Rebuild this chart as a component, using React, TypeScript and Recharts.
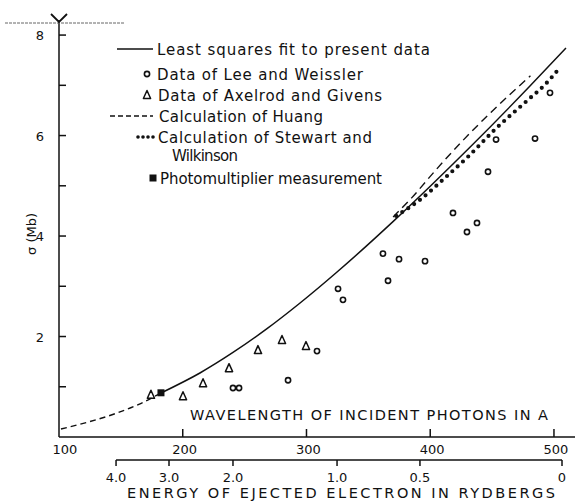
import React from 'react';
import { ComposedChart, Line, Scatter, XAxis, YAxis, ReferenceLine } from 'recharts';

// wavelength in A, cross section in Mb
const fitLambda = [182.4, 213.9, 240.6, 268.1, 294.8, 324.7, 369.9, 399.8, 432.1, 480.6, 509.7];
const fitSigma = [0.876, 1.274, 1.682, 2.156, 2.667, 3.284, 4.287, 4.986, 5.766, 6.986, 7.743];

const extrapLambda = [101.6, 124, 146, 164.5, 182.4];
const extrapSigma = [0.16, 0.3, 0.47, 0.65, 0.876];

const huangLambda = [370, 385, 404, 424, 449, 481];
const huangSigma = [4.38, 4.76, 5.3, 5.84, 6.46, 7.19];

const stewartLambda = [372.5, 392.7, 412, 430.6, 452.3, 479, 492.6, 504.7];
const stewartSigma = [4.4, 4.74, 5.16, 5.58, 6.12, 6.71, 7.01, 7.35];

const leeLambda = [240.6, 245.5, 285.1, 308.5, 325.5, 329.5, 361.8, 365.9, 374.8, 395.8, 418.4, 429.7, 437.8, 446.7, 453.2, 484.7, 496.8];
const leeSigma = [0.975, 0.975, 1.13, 1.71, 2.95, 2.73, 3.65, 3.11, 3.54, 3.5, 4.46, 4.08, 4.26, 5.28, 5.92, 5.94, 6.85];

const axelrodLambda = [174.3, 200.2, 216.4, 237.4, 260.8, 280.2, 299.6];
const axelrodSigma = [0.84, 0.81, 1.07, 1.37, 1.73, 1.93, 1.81];

const photoLambda = [182.4];
const photoSigma = [0.88];

const lambdaTicks = [100, 200, 300, 400, 500];
const sigmaTicks = [0, 1, 2, 3, 4, 5, 6, 7, 8];
const energyTickLambda = [146.1, 188.9, 240.6, 324.7, 391.7, 506.5];
const energyLabels = ['4.0', '3.0', '2.0', '1.0', '0.5', '0'];

const pts = (xs: number[], ys: number[]) => xs.map((x, i) => ({ x, y: ys[i] }));

const INK = '#111';
const FONT = '"DejaVu Sans", sans-serif';
const BRACKET_Y = -0.46;

function OpenCircle({ cx, cy }: any) {
  return <circle cx={cx} cy={cy} r={2.6} fill="#fff" stroke={INK} strokeWidth={1.6} />;
}

function Triangle({ cx, cy }: any) {
  return (
    <path
      d={`M${cx},${cy - 4.5} L${cx + 3.6},${cy + 3.5} L${cx - 3.6},${cy + 3.5} Z`}
      fill="none"
      stroke={INK}
      strokeWidth={1.5}
      strokeLinejoin="round"
    />
  );
}

function Square({ cx, cy }: any) {
  return <rect x={cx - 3.5} y={cy - 3.5} width={7} height={7} fill={INK} />;
}

function YTick({ x, y, payload }: any) {
  const v = payload.value;
  const ax = x + 14;
  return (
    <g>
      {v > 0 && <line x1={ax} x2={ax + 7} y1={y} y2={y} stroke={INK} strokeWidth={1.5} />}
      {v > 0 && v % 2 === 0 && (
        <text x={x - 1} y={y + 5} textAnchor="end" fontFamily={FONT} fontSize={13} fill={INK}>
          {v}
        </text>
      )}
    </g>
  );
}

function XTick({ x, y, payload }: any) {
  const v = payload.value;
  const ay = y - 10;
  return (
    <g>
      {v > 100 && <line x1={x} x2={x} y1={ay} y2={ay - 8} stroke={INK} strokeWidth={1.5} />}
      <text x={x + (v === 100 ? 6 : 2)} y={y + 7} textAnchor="middle" fontFamily={FONT} fontSize={13} fill={INK}>
        {v}
      </text>
    </g>
  );
}

// energy scale hangs below the wavelength axis (y = axis top + 8)
function ETick({ x, y, index }: any) {
  return (
    <g>
      <line x1={x} x2={x} y1={y - 9} y2={y - 3} stroke={INK} strokeWidth={1.5} />
      <text x={x} y={y + 13} textAnchor="middle" fontFamily={FONT} fontSize={13} fill={INK}>
        {energyLabels[index]}
      </text>
    </g>
  );
}

function Overlay() {
  const t = { fontFamily: FONT, fontSize: 15, fill: INK, lengthAdjust: 'spacing' as const };
  return (
    <svg width={575} height={502} style={{ position: 'absolute', left: 0, top: 0, pointerEvents: 'none' }}>
      {/* top of y axis */}
      <line x1={5} x2={125} y1={23} y2={23} stroke="#666" strokeWidth={1} strokeDasharray="3 1" />
      <path d="M51,14 L59,22 L67,14" fill="none" stroke={INK} strokeWidth={1.8} />

      {/* legend */}
      <line x1={117} x2={153} y1={49} y2={49} stroke={INK} strokeWidth={1.4} />
      <text x={157} y={55} textLength={273} {...t}>Least squares fit to present data</text>
      <OpenCircle cx={147} cy={74} />
      <text x={157} y={80} textLength={206} {...t}>Data of Lee and Weissler</text>
      <Triangle cx={147} cy={95} />
      <text x={158} y={101} textLength={224} {...t}>Data of Axelrod and Givens</text>
      <line x1={110} x2={153} y1={116} y2={116} stroke={INK} strokeWidth={1.3} strokeDasharray="5 3" />
      <text x={159} y={122} textLength={164} {...t}>Calculation of Huang</text>
      {[138, 143, 148, 153].map((cx) => (
        <circle key={cx} cx={cx} cy={137} r={1.8} fill={INK} />
      ))}
      <text x={158} y={143} textLength={214} {...t}>Calculation of Stewart and</text>
      <text x={172} y={161} textLength={66} {...t}>Wilkinson</text>
      <Square cx={153} cy={178} />
      <text x={160} y={184} textLength={222} {...t}>Photomultiplier measurement</text>

      {/* axis titles */}
      <text x={190} y={420} textLength={358} {...t} fontSize={14.5}>WAVELENGTH OF INCIDENT PHOTONS IN A</text>
      <text x={127} y={498} textLength={428} {...t} fontSize={14.5}>ENERGY OF EJECTED ELECTRON IN RYDBERGS</text>
      <text
        x={0}
        y={0}
        transform="translate(36,234) rotate(-90)"
        textAnchor="middle"
        fontFamily={FONT}
        fontSize={13}
        fill={INK}
      >
        σ (Mb)
      </text>
    </svg>
  );
}

export default function App() {
  return (
    <div style={{ position: 'absolute', left: 0, top: 0, width: 575, height: 502, background: '#fff' }}>
      <ComposedChart width={575} height={502} margin={{ top: 20, right: 0, left: 0, bottom: 0 }}>
        <XAxis
          xAxisId={0}
          dataKey="x"
          type="number"
          domain={[100, 517]}
          ticks={lambdaTicks}
          interval={0}
          height={24}
          tickSize={6}
          tickMargin={4}
          tickLine={false}
          axisLine={{ stroke: INK, strokeWidth: 1.5 }}
          tick={<XTick />}
          allowDataOverflow
        />
        <XAxis
          xAxisId="e"
          dataKey="x"
          type="number"
          domain={[100, 517]}
          ticks={energyTickLambda}
          interval={0}
          height={41}
          tickSize={6}
          tickMargin={2}
          tickLine={false}
          axisLine={false}
          tick={<ETick />}
          allowDataOverflow
        />
        <YAxis
          dataKey="y"
          type="number"
          domain={[0, 8.3]}
          ticks={sigmaTicks}
          interval={0}
          width={59}
          tickSize={6}
          tickMargin={8}
          tickLine={false}
          axisLine={{ stroke: INK, strokeWidth: 1.5 }}
          tick={<YTick />}
          allowDataOverflow
        />
        <ReferenceLine
          segment={[
            { x: energyTickLambda[0], y: BRACKET_Y },
            { x: energyTickLambda[energyTickLambda.length - 1], y: BRACKET_Y },
          ]}
          stroke={INK}
          strokeWidth={1.5}
          ifOverflow="visible"
        />
        <Line
          data={pts(extrapLambda, extrapSigma)}
          dataKey="y"
          type="monotone"
          stroke={INK}
          strokeWidth={1.4}
          strokeDasharray="6 4"
          dot={false}
          isAnimationActive={false}
        />
        <Line
          data={pts(fitLambda, fitSigma)}
          dataKey="y"
          type="monotone"
          stroke={INK}
          strokeWidth={1.5}
          dot={false}
          isAnimationActive={false}
        />
        <Line
          data={pts(huangLambda, huangSigma)}
          dataKey="y"
          type="monotone"
          stroke={INK}
          strokeWidth={1.4}
          strokeDasharray="8 5"
          dot={false}
          isAnimationActive={false}
        />
        <Line
          data={pts(stewartLambda, stewartSigma)}
          dataKey="y"
          type="monotone"
          stroke={INK}
          strokeWidth={4.2}
          strokeLinecap="round"
          strokeDasharray="0 7.2"
          dot={false}
          isAnimationActive={false}
        />
        <Scatter data={pts(leeLambda, leeSigma)} shape={<OpenCircle />} isAnimationActive={false} />
        <Scatter data={pts(axelrodLambda, axelrodSigma)} shape={<Triangle />} isAnimationActive={false} />
        <Scatter data={pts(photoLambda, photoSigma)} shape={<Square />} isAnimationActive={false} />
      </ComposedChart>
      <Overlay />
    </div>
  );
}
